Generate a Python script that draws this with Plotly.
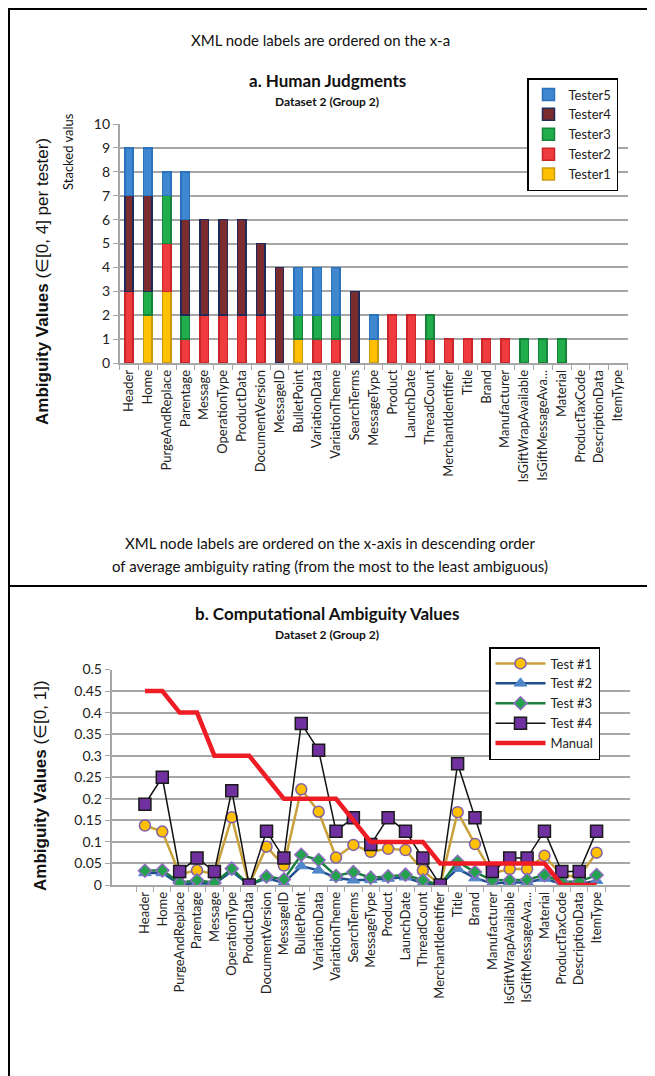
import plotly.graph_objects as go

# node labels, ordered by average ambiguity
labels = ["Header", "Home", "PurgeAndReplace", "Parentage", "Message", "OperationType",
          "ProductData", "DocumentVersion", "MessageID", "BulletPoint", "VariationData",
          "VariationTheme", "SearchTerms", "MessageType", "Product", "LaunchDate",
          "ThreadCount", "MerchantIdentifier", "Title", "Brand", "Manufacturer",
          "IsGiftWrapAvailable", "IsGiftMessageAva...", "Material", "ProductTaxCode",
          "DescriptionData", "ItemType"]

# a. human judgments (stacked, per tester)
tester1 = [0, 2, 3, 0, 0, 0, 0, 0, 0, 1, 0, 0, 0, 1, 0, 0, 0, 0, 0, 0, 0, 0, 0, 0, 0, 0, 0]
tester2 = [3, 0, 2, 1, 2, 2, 2, 2, 0, 0, 1, 1, 0, 0, 2, 2, 1, 1, 1, 1, 1, 0, 0, 0, 0, 0, 0]
tester3 = [0, 1, 2, 1, 0, 0, 0, 0, 0, 1, 1, 1, 0, 0, 0, 0, 1, 0, 0, 0, 0, 1, 1, 1, 0, 0, 0]
tester4 = [4, 4, 0, 4, 4, 4, 4, 3, 4, 0, 0, 0, 3, 0, 0, 0, 0, 0, 0, 0, 0, 0, 0, 0, 0, 0, 0]
tester5 = [2, 2, 1, 2, 0, 0, 0, 0, 0, 2, 2, 2, 0, 1, 0, 0, 0, 0, 0, 0, 0, 0, 0, 0, 0, 0, 0]

# b. computational ambiguity values
test1 = [0.138, 0.124, 0.025, 0.034, 0.025, 0.157, 0, 0.089, 0.045, 0.222, 0.170, 0.064,
         0.093, 0.077, 0.084, 0.081, 0.034, 0, 0.169, 0.095, 0.027, 0.037, 0.037, 0.068,
         0.022, 0.020, 0.075]
test2 = [0.028, 0.028, 0.002, 0.004, 0.003, 0.032, 0, 0.016, 0.005, 0.044, 0.034, 0.017,
         0.011, 0.012, 0.015, 0.018, 0.004, 0, 0.038, 0.016, 0.004, 0.006, 0.006, 0.015,
         0.002, 0.002, 0.010]
test3 = [0.033, 0.034, 0.005, 0.011, 0.005, 0.038, 0, 0.020, 0.013, 0.070, 0.058, 0.021,
         0.030, 0.017, 0.020, 0.024, 0.011, 0, 0.054, 0.030, 0.011, 0.011, 0.012, 0.023,
         0.007, 0.008, 0.023]
test4 = [0.1875, 0.25, 0.03125, 0.0625, 0.03125, 0.21875, 0, 0.125, 0.0625, 0.375, 0.3125,
         0.125, 0.15625, 0.09375, 0.15625, 0.125, 0.0625, 0, 0.28125, 0.15625, 0.03125,
         0.0625, 0.0625, 0.125, 0.03125, 0.03125, 0.125]
manual = [0.45, 0.45, 0.4, 0.4, 0.3, 0.3, 0.3, 0.25, 0.2, 0.2, 0.2, 0.2, 0.15, 0.1, 0.1,
          0.1, 0.1, 0.05, 0.05, 0.05, 0.05, 0.05, 0.05, 0.05, 0, 0, 0]

W, H = 655, 1076
OFF = 8  # page body margin
FONT = "Lato"
GRID = "#a6a6a6"


def px(x):
    return max(x - OFF, 1) / W


def py(y):
    return 1 - max(y - OFF, 1) / H


fig = go.Figure()

bar_style = [
    ("Tester1", tester1, "#ffc000", "#c99a10"),
    ("Tester2", tester2, "#ef3b3e", "#c9262b"),
    ("Tester3", tester3, "#22ad4c", "#15843a"),
    ("Tester4", tester4, "#7b2c2e", "#1f2a58"),
    ("Tester5", tester5, "#3f87cf", "#2a72bd"),
]
for name, vals, fill, edge in bar_style:
    # empty segments are left out so no outline shows at their base
    fig.add_trace(go.Bar(x=labels, y=[v if v else None for v in vals], name=name, width=0.45,
                         marker=dict(color=fill, line=dict(color=edge, width=1.5)),
                         xaxis="x", yaxis="y", legend="legend"))

line_style = [
    ("Test #1", test1, "#c9a13b", 2.5, dict(symbol="circle", size=11, color="#ffc000",
                                            line=dict(color="#7f5fa8", width=1.5))),
    ("Test #2", test2, "#1f4e8c", 2.5, dict(symbol="triangle-up", size=11, color="#4f87c8",
                                            line=dict(color="#4f87c8", width=1))),
    ("Test #3", test3, "#1b7f3f", 2.5, dict(symbol="diamond", size=10, color="#23a24d",
                                            line=dict(color="#8e6cc0", width=1.5))),
    ("Test #4", test4, "#111111", 1.5, dict(symbol="square", size=12, color="#7030a0",
                                            line=dict(color="#1a1a1a", width=1.5))),
]
for name, vals, lc, lw, mk in line_style:
    fig.add_trace(go.Scatter(x=labels, y=vals, name=name, mode="lines+markers",
                             line=dict(color=lc, width=lw), marker=mk,
                             xaxis="x2", yaxis="y2", legend="legend2"))
fig.add_trace(go.Scatter(x=labels, y=manual, name="Manual", mode="lines",
                         line=dict(color="#ee1c25", width=4.5),
                         xaxis="x2", yaxis="y2", legend="legend2"))

xcommon = dict(type="category", tickangle=-90, tickfont=dict(family=FONT, size=13, color="#222"),
               showline=True, linecolor=GRID, linewidth=1.5, ticks="outside", tickson="boundaries",
               ticklen=5, tickcolor=GRID, showgrid=False, automargin=False)
ycommon = dict(showgrid=True, gridcolor=GRID, gridwidth=1.5, showline=True, linecolor=GRID,
               linewidth=1.5, ticks="outside", ticklen=5, tickcolor=GRID, zeroline=False,
               automargin=False, tickfont=dict(family=FONT, size=14, color="#222"))

fig.update_layout(
    width=W, height=H, autosize=False,
    margin=dict(l=0, r=0, t=0, b=0, pad=0, autoexpand=False),
    paper_bgcolor="white", plot_bgcolor="white",
    barmode="stack", bargap=0.55,
    xaxis=dict(domain=[px(119.6), px(627.5)], anchor="y", **xcommon),
    yaxis=dict(domain=[py(363), py(124)], anchor="x", range=[0, 10], dtick=1, **ycommon),
    xaxis2=dict(domain=[px(111.5), px(630)], anchor="y2", **xcommon),
    yaxis2=dict(domain=[py(885), py(669.5)], anchor="x2", range=[0, 0.5], dtick=0.05,
                tickformat="~g", **ycommon),
    legend=dict(x=px(527), y=py(78), xanchor="left", yanchor="top", traceorder="reversed",
                bgcolor="white", bordercolor="black", borderwidth=1.5, itemwidth=30,
                font=dict(family=FONT, size=13, color="#222"), tracegroupgap=0),
    legend2=dict(x=px(489), y=py(647), xanchor="left", yanchor="top", traceorder="normal",
                 bgcolor="white", bordercolor="black", borderwidth=1.5, itemwidth=50,
                 font=dict(family=FONT, size=13, color="#222"), tracegroupgap=0),
    showlegend=True,
)

# frame around both panels
frame = dict(color="black", width=2)
fig.add_shape(type="rect", xref="paper", yref="paper", x0=px(4), x1=px(652),
              y0=-0.01, y1=py(3), line=frame)
fig.add_shape(type="line", xref="paper", yref="paper", x0=px(4), x1=px(652),
              y0=py(586), y1=py(586), line=frame)


def note(text, x, y, size, bold=False, angle=0, family=FONT):
    if bold:
        text = "<b>" + text + "</b>"
    fig.add_annotation(text=text, x=px(x), y=py(y), xref="paper", yref="paper",
                       xanchor="center", yanchor="middle", showarrow=False, textangle=angle,
                       font=dict(family=family, size=size, color="#111"))


note("XML node labels are ordered on the x-a", 320, 40, 15)
note("a. Human Judgments", 327, 80, 17, bold=True)
note("Dataset 2 (Group 2)", 327, 101, 12, bold=True)
note("XML node labels are ordered on the x-axis in descending order", 330, 543, 15)
note("of average ambiguity rating (from the most to the least ambiguous)", 330, 566, 15)
note("b. Computational Ambiguity Values", 327, 613, 17, bold=True)
note("Dataset 2 (Group 2)", 327, 634, 12, bold=True)

note("<b>Ambiguity Values</b> (∈[0, 4] per tester)", 42, 282, 17, angle=-90,
     family="Liberation Sans")
note("Stacked valus", 68, 152, 13, angle=-90)
note("<b>Ambiguity Values</b> (∈[0, 1])", 40, 786, 17, angle=-90, family="Liberation Sans")

fig.write_html("out.html")
